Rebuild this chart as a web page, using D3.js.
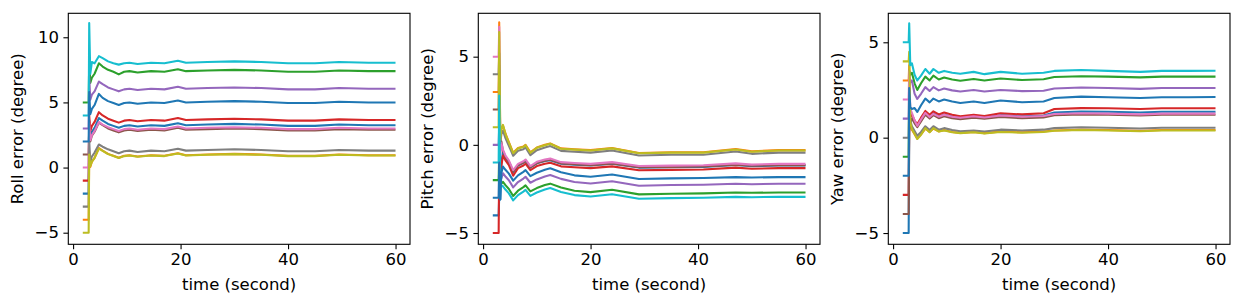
<!DOCTYPE html>
<html>
<head>
<meta charset="utf-8">
<script src="https://cdn.jsdelivr.net/npm/d3@7"></script>
<style>
body { margin: 0; background: #fff; }
svg text { font-family: "DejaVu Sans", sans-serif; fill: #000; }
</style>
</head>
<body>
<div id="chart"></div>
<script>
//tab10 colours, 11 runs so the last one wraps back to blue
const colors = ["#1f77b4", "#ff7f0e", "#2ca02c", "#d62728", "#9467bd", "#8c564b",
                "#e377c2", "#7f7f7f", "#bcbd22", "#17becf", "#1f77b4"];

const xTicks = [0, 20, 40, 60];
const xLimits = [-0.89, 62.69];

//roll
const rollTime = [2, 2.9, 3.0, 3.2, 3.5, 4.0, 4.8, 5.5, 6.5, 7.5, 8.5, 9.5, 10.5, 12, 14.5, 17, 19.5, 21, 25, 30, 35, 40, 45, 49.5, 55, 59.8];
const rollValues = [
	[-2, -2, 3.6, 2.35, 2.75, 3.05, 3.8, 3.6, 3.35, 3.2, 3.05, 3.2, 3.25, 3.15, 3.25, 3.2, 3.4, 3.25, 3.3, 3.35, 3.3, 3.2, 3.2, 3.3, 3.25, 3.25],
	[-4, -4, 1.2, 0.05, 0.45, 0.75, 1.5, 1.3, 1.05, 0.9, 0.75, 0.9, 0.95, 0.85, 0.95, 0.9, 1.1, 0.95, 1.0, 1.05, 1.0, 0.9, 0.9, 1.0, 0.95, 0.95],
	[5, 5, 8.2, 6.5, 6.9, 7.2, 8.0, 7.75, 7.5, 7.35, 7.15, 7.35, 7.4, 7.3, 7.4, 7.35, 7.55, 7.4, 7.45, 7.5, 7.45, 7.35, 7.35, 7.45, 7.4, 7.4],
	[-1, -1, 4.0, 2.8, 3.2, 3.5, 4.25, 4.0, 3.75, 3.6, 3.45, 3.6, 3.65, 3.55, 3.65, 3.6, 3.8, 3.65, 3.7, 3.75, 3.7, 3.6, 3.6, 3.7, 3.65, 3.65],
	[3, 3, 7.0, 5.2, 5.6, 5.85, 6.6, 6.4, 6.15, 6.0, 5.85, 6.0, 6.05, 5.95, 6.05, 6.0, 6.2, 6.05, 6.1, 6.15, 6.1, 6.0, 6.0, 6.1, 6.05, 6.05],
	[1, 1, 3.2, 2.0, 2.45, 2.75, 3.45, 3.25, 3.0, 2.85, 2.7, 2.85, 2.9, 2.8, 2.9, 2.85, 3.05, 2.9, 2.95, 3.0, 2.95, 2.85, 2.85, 2.95, 2.9, 2.9],
	[0, 0, 3.4, 2.1, 2.5, 2.8, 3.5, 3.3, 3.1, 2.95, 2.8, 2.95, 3.0, 2.9, 3.0, 2.95, 3.15, 3.0, 3.05, 3.1, 3.05, 2.95, 2.95, 3.05, 3.0, 3.0],
	[-3, -3, 2.0, 0.45, 0.85, 1.15, 1.77, 1.6, 1.4, 1.25, 1.1, 1.25, 1.3, 1.2, 1.3, 1.25, 1.45, 1.3, 1.35, 1.4, 1.35, 1.25, 1.25, 1.35, 1.3, 1.3],
	[-5, -5, 1.0, 0.1, 0.45, 0.75, 1.45, 1.28, 1.03, 0.88, 0.73, 0.88, 0.93, 0.83, 0.93, 0.88, 1.08, 0.93, 0.98, 1.03, 0.98, 0.88, 0.88, 0.98, 0.93, 0.93],
	[4, 4, 11.1, 7.2, 8.1, 8.0, 8.55, 8.4, 8.15, 8.0, 7.9, 8.0, 8.05, 7.95, 8.05, 8.0, 8.2, 8.05, 8.1, 8.15, 8.1, 8.0, 8.0, 8.1, 8.05, 8.05],
	[2, 2, 5.8, 4.1, 4.5, 4.8, 5.65, 5.35, 5.1, 4.95, 4.8, 4.95, 5.0, 4.9, 5.0, 4.95, 5.15, 5.0, 5.05, 5.1, 5.05, 4.95, 4.95, 5.05, 5.0, 5.0]
];
const rollLimits = [-5.89, 11.84];
const rollTicks = [-5, 0, 5, 10];

//pitch
const pitchTime = [2, 2.9, 3.0, 3.2, 3.4, 3.7, 4.2, 4.8, 5.6, 6.5, 7.5, 7.9, 8.8, 10, 11.5, 12.5, 14.5, 17, 20, 24, 29, 35, 41, 47, 50, 55, 59.8];
const pitchValues = [
	[-4, -4, -2.9, -3.1, -1.0, -0.45, -0.75, -0.97, -1.55, -1.17, -1.02, -0.92, -1.29, -1.05, -0.92, -0.87, -1.07, -1.12, -1.17, -1.07, -1.29, -1.27, -1.25, -1.14, -1.21, -1.17, -1.17],
	[3, 3, 6.95, 0.3, 0.9, 1.1, 0.6, 0.15, -0.45, -0.18, -0.1, 0.0, -0.43, -0.15, 0.0, 0.08, -0.2, -0.25, -0.3, -0.18, -0.46, -0.42, -0.42, -0.24, -0.37, -0.3, -0.3],
	[-2, -2, -0.5, -2.3, -2.2, -2.1, -2.3, -2.5, -2.9, -2.6, -2.4, -2.3, -2.64, -2.45, -2.28, -2.2, -2.42, -2.6, -2.68, -2.55, -2.81, -2.77, -2.75, -2.7, -2.72, -2.7, -2.7],
	[-5, -5, -1.0, -1.5, -1.2, -0.6, -0.9, -1.15, -1.75, -1.32, -1.17, -1.07, -1.44, -1.2, -1.07, -1.02, -1.22, -1.27, -1.32, -1.22, -1.44, -1.42, -1.4, -1.29, -1.36, -1.32, -1.32],
	[0, 0, 1.0, -1.8, -1.9, -1.61, -1.81, -2.01, -2.41, -2.11, -1.91, -1.81, -2.15, -1.96, -1.79, -1.71, -1.93, -2.11, -2.19, -2.06, -2.32, -2.28, -2.26, -2.21, -2.23, -2.21, -2.21],
	[2, 2, 4.5, -0.3, 0.2, -0.35, -0.7, -0.95, -1.5, -1.15, -1.0, -0.9, -1.27, -1.03, -0.9, -0.85, -1.05, -1.1, -1.15, -1.05, -1.27, -1.25, -1.23, -1.12, -1.19, -1.15, -1.15],
	[5, 5, 6.7, -0.6, 0.1, -0.28, -0.63, -0.88, -1.43, -1.08, -0.93, -0.83, -1.2, -0.96, -0.83, -0.78, -0.98, -1.03, -1.08, -0.98, -1.2, -1.18, -1.16, -1.05, -1.12, -1.08, -1.08],
	[4, 4, 5.2, 0.1, 0.6, 0.8, 0.35, -0.05, -0.62, -0.33, -0.25, -0.15, -0.58, -0.3, -0.15, -0.07, -0.34, -0.39, -0.44, -0.32, -0.6, -0.56, -0.56, -0.38, -0.51, -0.44, -0.44],
	[1, 1, 6.4, 0.28, 0.88, 1.13, 0.58, 0.13, -0.47, -0.2, -0.12, -0.02, -0.45, -0.17, -0.02, 0.06, -0.22, -0.27, -0.32, -0.2, -0.48, -0.44, -0.44, -0.26, -0.39, -0.32, -0.32],
	[-1, -1, 2.8, -2.4, -2.3, -2.35, -2.55, -2.75, -3.15, -2.85, -2.65, -2.55, -2.89, -2.7, -2.53, -2.45, -2.67, -2.85, -2.93, -2.8, -3.06, -3.02, -3.0, -2.95, -2.97, -2.95, -2.95],
	[-3, -3, -1.0, -3.1, -1.6, -1.23, -1.43, -1.63, -2.03, -1.73, -1.53, -1.43, -1.77, -1.58, -1.41, -1.33, -1.55, -1.73, -1.81, -1.68, -1.94, -1.9, -1.88, -1.83, -1.85, -1.83, -1.83]
];
const pitchLimits = [-5.64, 7.46];
const pitchTicks = [-5, 0, 5];

//yaw
const yawTime = [2, 2.9, 3.0, 3.2, 3.5, 4.0, 4.5, 5.2, 6.0, 6.8, 7.5, 8.5, 9.5, 11, 12.5, 15, 17, 20, 24, 28, 30, 35, 40, 46, 50, 55, 59.8];
const yawValues = [
	[-5, -5, 0.5, 0.8, 1.0, 0.85, 0.65, 0.95, 1.3, 1.1, 1.28, 1.12, 1.22, 1.12, 1.06, 1.14, 1.08, 1.18, 1.12, 1.16, 1.32, 1.37, 1.36, 1.32, 1.36, 1.36, 1.36],
	[3, 3, 3.8, 0.7, 0.42, 0.18, -0.05, 0.17, 0.48, 0.3, 0.48, 0.33, 0.4, 0.3, 0.25, 0.3, 0.24, 0.32, 0.28, 0.32, 0.38, 0.42, 0.4, 0.36, 0.4, 0.4, 0.4],
	[-1, -1, 3.5, 3.3, 3.4, 2.85, 2.5, 2.85, 3.2, 3.0, 3.25, 3.05, 3.15, 3.05, 2.98, 3.08, 3.0, 3.1, 3.02, 3.06, 3.18, 3.22, 3.2, 3.16, 3.2, 3.2, 3.2],
	[-3, -3, 1.0, 1.1, 1.2, 0.9, 0.7, 1.05, 1.4, 1.2, 1.38, 1.22, 1.32, 1.2, 1.12, 1.2, 1.14, 1.28, 1.22, 1.28, 1.5, 1.55, 1.54, 1.5, 1.54, 1.54, 1.54],
	[1, 1, 3.2, 2.9, 3.0, 2.3, 2.03, 2.3, 2.65, 2.45, 2.65, 2.48, 2.58, 2.48, 2.42, 2.5, 2.42, 2.5, 2.44, 2.46, 2.58, 2.63, 2.6, 2.56, 2.6, 2.6, 2.6],
	[-4, -4, 0.3, 0.9, 1.0, 0.75, 0.55, 0.85, 1.2, 1.0, 1.18, 1.02, 1.12, 1.02, 0.97, 1.05, 0.99, 1.08, 1.02, 1.06, 1.18, 1.22, 1.2, 1.16, 1.2, 1.2, 1.2],
	[2, 2, 3.5, 1.5, 1.3, 0.9, 0.62, 0.95, 1.3, 1.08, 1.25, 1.1, 1.2, 1.1, 1.04, 1.12, 1.06, 1.16, 1.1, 1.14, 1.24, 1.28, 1.26, 1.22, 1.26, 1.26, 1.26],
	[0, 0, 2.0, 0.9, 0.6, 0.35, 0.1, 0.3, 0.6, 0.4, 0.6, 0.42, 0.5, 0.4, 0.34, 0.38, 0.32, 0.42, 0.38, 0.42, 0.5, 0.55, 0.52, 0.48, 0.52, 0.52, 0.52],
	[4, 4, 4.5, 0.8, 0.45, 0.2, -0.07, 0.15, 0.5, 0.28, 0.5, 0.32, 0.38, 0.28, 0.24, 0.28, 0.22, 0.3, 0.26, 0.3, 0.36, 0.4, 0.38, 0.34, 0.38, 0.38, 0.38],
	[5, 5, 6.0, 3.8, 3.9, 3.3, 3.0, 3.25, 3.6, 3.35, 3.6, 3.4, 3.5, 3.4, 3.35, 3.45, 3.33, 3.45, 3.35, 3.4, 3.5, 3.55, 3.5, 3.45, 3.5, 3.5, 3.51],
	[-2, -2, 2.6, 1.6, 1.5, 1.55, 1.35, 1.7, 2.05, 1.85, 2.05, 1.9, 2.0, 1.9, 1.82, 1.9, 1.82, 1.95, 1.86, 1.9, 2.08, 2.15, 2.12, 2.08, 2.12, 2.12, 2.13]
];
const yawLimits = [-5.59, 6.52];
const yawTicks = [-5, 0, 5];

//layout: every axes box has the same size, only the left edge moves
const figW = 1243, figH = 305;
const boxTop = 13.3, boxW = 341.7, boxH = 231;
const tickLen = 4.9, fontSize = 16.5;

const panels = [
	{label: "Roll error (degree)", time: rollTime, values: rollValues, ylim: rollLimits, yticks: rollTicks, left: 68.3},
	{label: "Pitch error (degree)", time: pitchTime, values: pitchValues, ylim: pitchLimits, yticks: pitchTicks, left: 478.3},
	{label: "Yaw error (degree)", time: yawTime, values: yawValues, ylim: yawLimits, yticks: yawTicks, left: 888.3}
];

const svg = d3.select("#chart").append("svg")
	.attr("width", figW)
	.attr("height", figH);

const fmt = d3.format("d"); //d3 v7 uses the real minus sign, like matplotlib

panels.forEach(function(p) {
	const g = svg.append("g")
		.attr("transform", "translate(" + p.left + "," + boxTop + ")");

	const x = d3.scaleLinear().domain(xLimits).range([0, boxW]);
	const y = d3.scaleLinear().domain(p.ylim).range([boxH, 0]);

	//lines
	const line = d3.line()
		.x(function(d) { return x(d[0]); })
		.y(function(d) { return y(d[1]); });
	p.values.forEach(function(vals, i) {
		const pts = vals.map(function(v, j) { return [p.time[j], v]; });
		g.append("path")
			.datum(pts)
			.attr("d", line)
			.attr("fill", "none")
			.attr("stroke", colors[i])
			.attr("stroke-width", 2.08)
			.attr("stroke-linecap", "square")
			.attr("stroke-linejoin", "round");
	});

	//axes
	const xAxis = g.append("g")
		.attr("transform", "translate(0," + boxH + ")")
		.call(d3.axisBottom(x).tickValues(xTicks).tickFormat(fmt).tickSizeOuter(0).tickSize(tickLen).tickPadding(4.5));
	const yAxis = g.append("g")
		.call(d3.axisLeft(y).tickValues(p.yticks).tickFormat(fmt).tickSizeOuter(0).tickSize(tickLen).tickPadding(4.5));
	[xAxis, yAxis].forEach(function(a) {
		a.select(".domain").remove();
		a.selectAll("line").attr("stroke", "#000").attr("stroke-width", 1.1);
		a.selectAll("text")
			.style("font-family", "'DejaVu Sans', sans-serif")
			.style("font-size", fontSize + "px")
			.attr("fill", "#000");
	});

	//frame
	g.append("rect")
		.attr("x", 0).attr("y", 0)
		.attr("width", boxW).attr("height", boxH)
		.attr("fill", "none")
		.attr("stroke", "#000")
		.attr("stroke-width", 1.1);

	//axis labels
	g.append("text")
		.attr("x", boxW / 2)
		.attr("y", 290 - boxTop)
		.attr("text-anchor", "middle")
		.style("font-size", fontSize + "px")
		.text("time (second)");
	g.append("text")
		.attr("transform", "translate(" + (-45.5) + "," + (boxH / 2) + ") rotate(-90)")
		.attr("text-anchor", "middle")
		.style("font-size", fontSize + "px")
		.text(p.label);
});
</script>
</body>
</html>
